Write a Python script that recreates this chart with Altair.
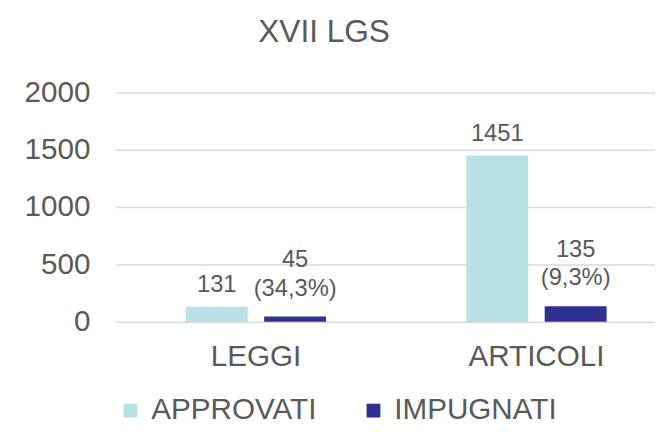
import altair as alt
import pandas as pd

categories = ["LEGGI", "ARTICOLI"]
series = ["APPROVATI", "IMPUGNATI"]
approvati = [131, 1451]
impugnati = [45, 135]
impugnati_pct = ["34,3%", "9,3%"]

rows = []
for i, c in enumerate(categories):
    rows.append({"cat": c, "serie": series[0], "val": approvati[i],
                 "label": str(approvati[i])})
    rows.append({"cat": c, "serie": series[1], "val": impugnati[i],
                 "label": f"{impugnati[i]}\n({impugnati_pct[i]})"})
df = pd.DataFrame(rows)

FONT = "Liberation Sans"
GREY = "#595959"
colors = ["#B9E0E3", "#2E3192"]

x = alt.X("cat:N", sort=categories, title=None,
          scale=alt.Scale(range=[0, 568], paddingInner=0.5, paddingOuter=0.25),
          axis=alt.Axis(labelAngle=0, ticks=False, domain=False, labelPadding=20,
                        labelFontSize=30, labelColor=GREY, labelFont=FONT))
xo = alt.XOffset("serie:N", sort=series,
                 scale=alt.Scale(paddingInner=0.21, paddingOuter=0))
y = alt.Y("val:Q", title=None,
          scale=alt.Scale(domain=[0, 2000]),
          axis=alt.Axis(values=[0, 500, 1000, 1500, 2000], format="d", ticks=False,
                        domain=False, labelPadding=26, labelFontSize=30,
                        labelColor=GREY, labelFont=FONT,
                        gridColor="#D9D9D9", gridWidth=1.5))

bars = alt.Chart(df).mark_bar().encode(
    x=x, xOffset=xo, y=y,
    color=alt.Color("serie:N", sort=series,
                    scale=alt.Scale(domain=series, range=colors),
                    legend=alt.Legend(title=None, orient="none", direction="horizontal",
                                      legendX=0, legendY=307, symbolType="square",
                                      symbolSize=196, symbolStrokeWidth=0,
                                      labelFontSize=30, labelColor=GREY, labelFont=FONT,
                                      labelLimit=0, labelOffset=6, columnPadding=42)),
)

lab_app = alt.Chart(df).transform_filter(
    alt.datum.serie == series[0]
).mark_text(
    baseline="bottom", dy=-10, fontSize=24, color=GREY, font=FONT,
).encode(x=x, xOffset=xo, y=y, text="label:N")

lab_imp = alt.Chart(df).transform_filter(
    alt.datum.serie == series[1]
).mark_text(
    baseline="bottom", dy=-45, fontSize=24, color=GREY, font=FONT,
    lineBreak="\n", lineHeight=29,
).encode(x=x, xOffset=xo, y=y, text="label:N")

chart = alt.layer(bars, lab_app, lab_imp).properties(
    width=546, height=232,
    autosize=alt.AutoSizeParams(type="none"),
    padding={"left": 109, "top": 83, "right": 0, "bottom": 101},
    title=alt.TitleParams("XVII LGS", fontSize=32, font=FONT, color=GREY,
                          fontWeight="normal", frame="group", offset=29, dx=-62),
).configure_view(stroke=None)

chart.save("out.html", embed_options={"renderer": "svg", "actions": False})
